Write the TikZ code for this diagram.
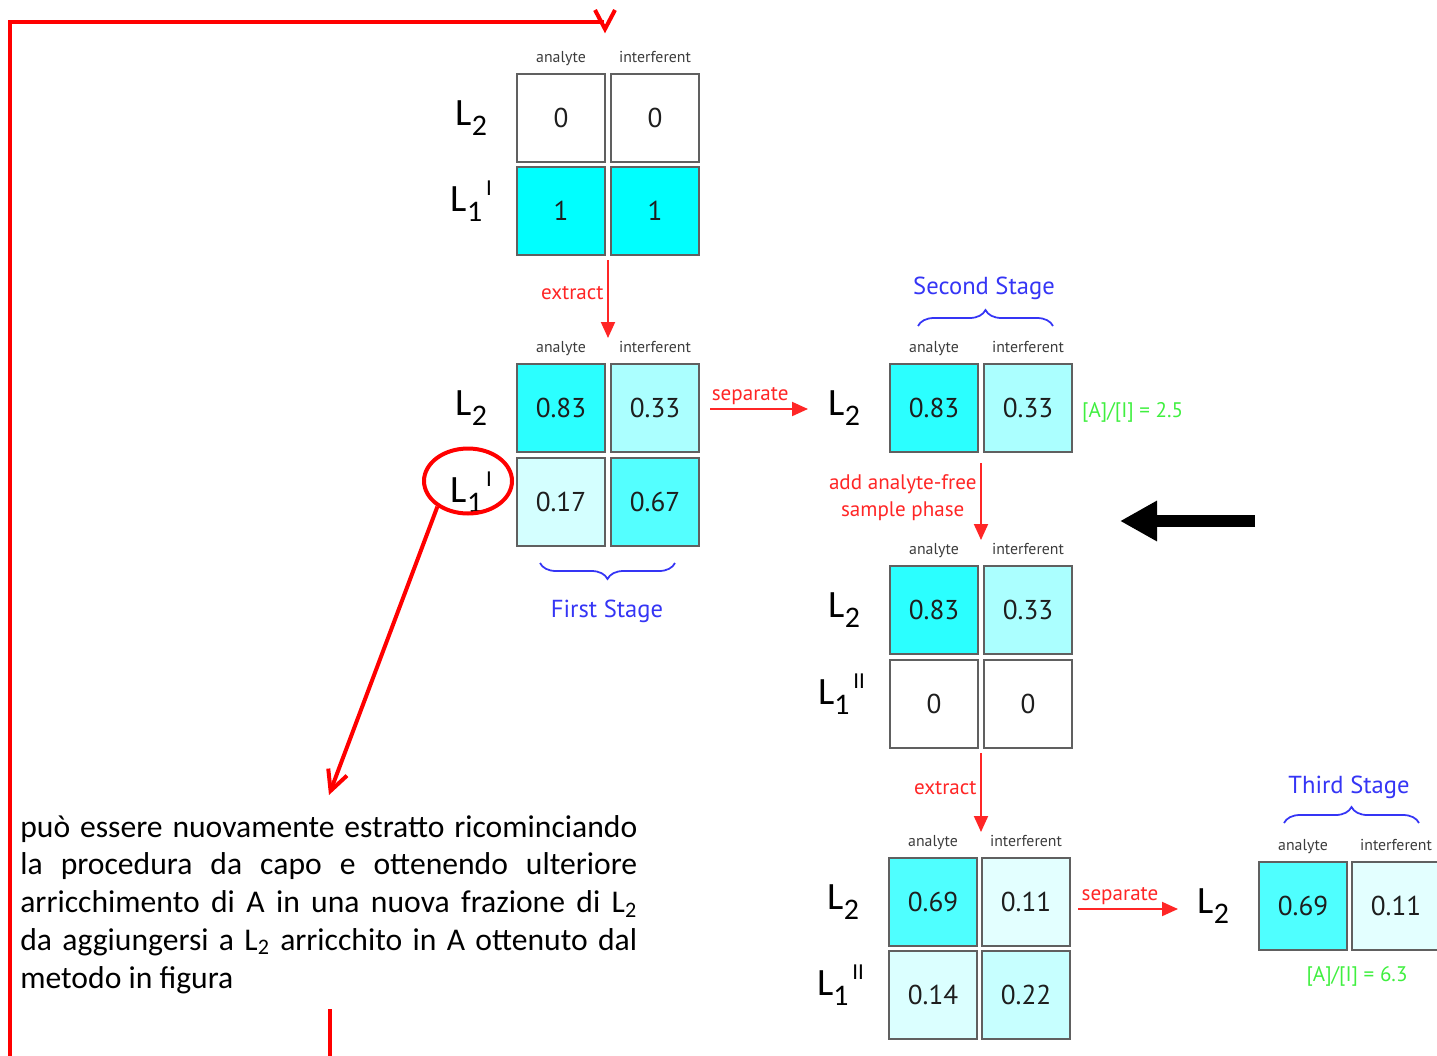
\documentclass[tikz,border=0pt]{standalone}
\usepackage{fontspec}
\setmainfont{PT Sans}
\newfontfamily\calib{Carlito}
\usepackage{tikz}
\usetikzlibrary{positioning,arrows.meta,decorations.pathreplacing,shapes.geometric}
\definecolor{cellCyan}{RGB}{0,255,255}
\definecolor{cellGray}{HTML}{606060}
\definecolor{hdrGray}{HTML}{3C3C3C}
\definecolor{numBlack}{HTML}{1E1E1E}
\definecolor{flowRed}{HTML}{FF2626}
\definecolor{markRed}{HTML}{FF0000}
\definecolor{stageBlue}{HTML}{3535F5}
\definecolor{ratioGreen}{HTML}{3FEF3F}

% phase label: L with subscript and optional superscript
\newcommand{\Lname}[2]{L\raisebox{-0.26em}{\fontsize{17}{17}\selectfont #1}\raisebox{0.42em}{\fontsize{13}{13}\selectfont\,#2}}

\begin{document}
\begin{tikzpicture}[
  x=0.02cm, y=-0.02cm,
  >={Triangle[length=0.32cm,width=0.28cm]},
  cell/.style={draw=cellGray, line width=1pt, minimum size=1.76cm, inner sep=0pt,
    text=numBlack, font=\fontsize{15.5}{15.5}\selectfont},
  hdr/.style={text=hdrGray, font=\fontsize{9}{9}\selectfont, inner sep=0pt,
    text height=0.72em, text depth=0.22em},
  lab/.style={font=\calib\fontsize{22}{22}\selectfont, inner sep=0pt},
  flow/.style={->, flowRed, line width=1.1pt},
  note/.style={text=flowRed, font=\fontsize{12}{15}\selectfont, inner sep=2pt},
  stage/.style={text=stageBlue, font=\fontsize{14}{14}\selectfont},
  ratio/.style={text=ratioGreen, font=\fontsize{12}{12}\selectfont, inner sep=0pt},
  brc/.style={draw=stageBlue, line width=1pt, decorate, decoration={brace, amplitude=0.32cm}},
  redmark/.style={draw=markRed, line width=0.08cm},
]
\useasboundingbox (0,0) rectangle (1437,1055);

% Cells: name/x/y/value/cyan share
\foreach \nm/\x/\y/\val/\pc in {
  g0a1/561/118/0/0, g0a2/655/118/0/0, g0b1/561/211/1/100, g0b2/655/211/1/100,
  g1a1/561/408/0.83/83, g1a2/655/408/0.33/33, g1b1/561/502/0.17/17, g1b2/655/502/0.67/67,
  g2a1/934/408/0.83/83, g2a2/1028/408/0.33/33,
  g3a1/934/610/0.83/83, g3a2/1028/610/0.33/33, g3b1/934/704/0/0, g3b2/1028/704/0/0,
  g4a1/933/902/0.69/69, g4a2/1026/902/0.11/11, g4b1/933/995/0.14/14, g4b2/1026/995/0.22/22,
  g5a1/1303/906/0.69/69, g5a2/1396/906/0.11/11} {
  \node[cell, fill=cellCyan!\pc!white] (\nm) at (\x,\y) {\val};
}

% Column headers
\foreach \nm in {g0a1,g1a1,g2a1,g3a1,g4a1,g5a1}
  \node[hdr, above=0.12cm of \nm] (\nm-h) {analyte};
\foreach \nm in {g0a2,g1a2,g2a2,g3a2,g4a2,g5a2}
  \node[hdr, above=0.12cm of \nm] (\nm-h) {interferent};

% Phase labels
\foreach \nm in {g0a1,g1a1,g2a1,g3a1,g4a1,g5a1}
  \node[lab, left=0.5cm of \nm] (\nm-l) {\Lname{2}{}};
\foreach \nm/\sp in {g0b1/I, g1b1/I, g3b1/II, g4b1/II}
  \node[lab, left=0.48cm of \nm, yshift=0.2cm] (\nm-l) {\Lname{1}{\sp}};

% Steps between stages
\coordinate (ex1s) at (608,260);  \coordinate (ex1e) at (608,338);
\coordinate (sp1s) at (710,409);  \coordinate (sp1e) at (808,409);
\coordinate (ad2s) at (981,463);  \coordinate (ad2e) at (981,540);
\coordinate (ex3s) at (981,753);  \coordinate (ex3e) at (981,832);
\coordinate (sp4s) at (1078,909); \coordinate (sp4e) at (1178,909);

\draw[flow] (ex1s) -- node[note, left, pos=0.42] (ex1l) {extract} (ex1e);
\draw[flow] (sp1s) -- node[note, above, pos=0.41] (sp1l) {separate} (sp1e);
\draw[flow] (ad2s) -- node[note, left, pos=0.45, align=center] (ad2l) {add analyte-free\\sample phase} (ad2e);
\draw[flow] (ex3s) -- node[note, left, pos=0.44] (ex3l) {extract} (ex3e);
\draw[flow] (sp4s) -- node[note, above, pos=0.42] (sp4l) {separate} (sp4e);

% Stages
\draw[brc] (675,563) -- (540,563);
\node[stage] (st1) at (607,611) {First Stage};
\draw[brc] (918,326) -- (1053,326);
\node[stage] (st2) at (984,288) {Second Stage};
\draw[brc] (1284,823) -- (1419,823);
\node[stage] (st3) at (1349,787) {Third Stage};

% Enrichment ratios
\node[ratio, right=0.18cm of g2a2, yshift=-0.08cm] (r2) {[A]/[I] = 2.5};
\node[ratio] (r5) at (1357,976) {[A]/[I] = 6.3};

% Black pointer
\coordinate (bigS) at (1255,521); \coordinate (bigE) at (1120,521);
\draw[line width=0.24cm, -{Triangle[length=0.74cm,width=0.76cm]}] (bigS) -- (bigE);

% Red annotations
\coordinate (loopA) at (10,1060); \coordinate (loopB) at (10,22); \coordinate (loopC) at (604,22);
\draw[redmark, line join=miter] (loopA) -- (loopB) -- (loopC);
\draw[redmark] (595,10) -- (605,29) -- (615,10);
\node[ellipse, draw=markRed, line width=0.08cm, minimum width=1.76cm, minimum height=1.3cm, inner sep=0pt] (ring) at (468,481) {};
\coordinate (ringTip) at (329,795);
\draw[redmark, -{Straight Barb[length=0.4cm,width=0.4cm]}] (ring.220) -- (ringTip);
\coordinate (tailA) at (329.5,1009); \coordinate (tailB) at (329.5,1060);
\draw[redmark] (tailA) -- (tailB);

% Remark
\node[anchor=base west, inner sep=0pt, font=\calib\fontsize{18}{21.5}\selectfont] (remark) at (20,837)
  {\parbox[t]{12.34cm}{può essere nuovamente estratto ricominciando\linebreak
  la procedura da capo e ottenendo ulteriore\linebreak
  arricchimento di A in una nuova frazione di L\textsubscript{2}\linebreak
  da aggiungersi a L\textsubscript{2} arricchito in A ottenuto dal\linebreak
  metodo in figura}};
\end{tikzpicture}
\end{document}
